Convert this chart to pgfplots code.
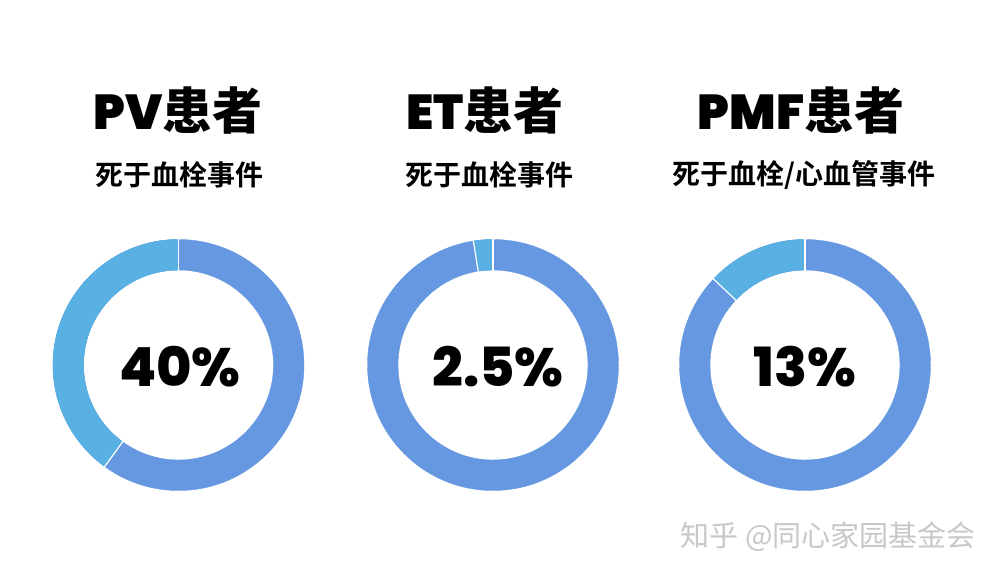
\documentclass[border=0pt]{standalone}
\usepackage{pgfplots}
\pgfplotsset{compat=1.18}
\usepackage{pgfplotstable}
\usepackage{fontspec}
\setmainfont{Poppins}
\newfontfamily\heavy{Poppins}[UprightFont={* Black}]
\newfontfamily\xbold{Poppins}[UprightFont={* ExtraBold}]
\newfontfamily\cjkheavy{Noto Sans CJK SC}[UprightFont={* Black}]
\newfontfamily\cjkbold{Noto Sans CJK SC}[UprightFont={* Bold}]
\newfontfamily\cjk{Noto Sans CJK SC}
\definecolor{dblue}{RGB}{102,152,226}
\definecolor{lblue}{RGB}{88,177,226}
\definecolor{wm}{RGB}{200,200,200}
\pgfplotstableread{
x y pct
178.5 365 40
493 365 2.5
805 365 13
}\donuts
\begin{document}
\begin{tikzpicture}
\begin{axis}[
  x=1pt, y=1pt,
  xmin=0, xmax=1000, ymin=0, ymax=575,
  y dir=reverse,
  hide axis, clip=false,
]
\fill[white] (axis cs:0,0) rectangle (axis cs:1000,575);
\addplot[scatter, only marks, mark=*, mark size=0.01pt, mark options={white},
  point meta=explicit,
  visualization depends on={\thisrow{pct}\as\pct},
  scatter/@pre marker code/.code={%
    \pgfmathsetmacro\ang{90+3.6*\pct}%
    \fill[dblue, even odd rule] (0,0) circle[radius=125.5pt] (0,0) circle[radius=95pt];
    \fill[lblue] (90:125.5pt) arc[start angle=90, end angle=\ang, radius=125.5pt]
       -- (\ang:95pt) arc[start angle=\ang, end angle=90, radius=95pt] -- cycle;
    \draw[white, line width=1.2pt] (90:94pt) -- (90:126.5pt);
    \draw[white, line width=1.2pt] (\ang:94pt) -- (\ang:126.5pt);
    \begin{scope}
  },
  scatter/@post marker code/.code={\end{scope}},
] table[x=x, y=y, meta=pct] {\donuts};

% titles
\node[font=\heavy\fontsize{49}{51}\selectfont] at (axis cs:178,111) {PV{\cjkheavy\fontsize{50}{52}\selectfont 患者}};
\node[font=\heavy\fontsize{49}{51}\selectfont] at (axis cs:485,111) {ET{\cjkheavy\fontsize{50}{52}\selectfont 患者}};
\node[font=\heavy\fontsize{49}{51}\selectfont] at (axis cs:801,111) {PMF{\cjkheavy\fontsize{50}{52}\selectfont 患者}};
% subtitles
\node[font=\cjkbold\fontsize{28}{30}\selectfont] at (axis cs:179,175) {死于血栓事件};
\node[font=\cjkbold\fontsize{28}{30}\selectfont] at (axis cs:489,175) {死于血栓事件};
\node[font=\cjkbold\fontsize{28}{30}\selectfont] at (axis cs:804,175) {死于血栓/心血管事件};
% centre values
\node[font=\xbold\fontsize{54}{56}\selectfont] at (axis cs:180,367) {40\%};
\node[font=\xbold\fontsize{54}{56}\selectfont] at (axis cs:498,367) {2.5\%};
\node[font=\xbold\fontsize{54}{56}\selectfont] at (axis cs:805,367) {13\%};
% watermark
\node[font=\cjk\fontsize{29}{31}\selectfont, text=wm] at (axis cs:828,537) {知乎 @同心家园基金会};
\end{axis}
\end{tikzpicture}
\end{document}
